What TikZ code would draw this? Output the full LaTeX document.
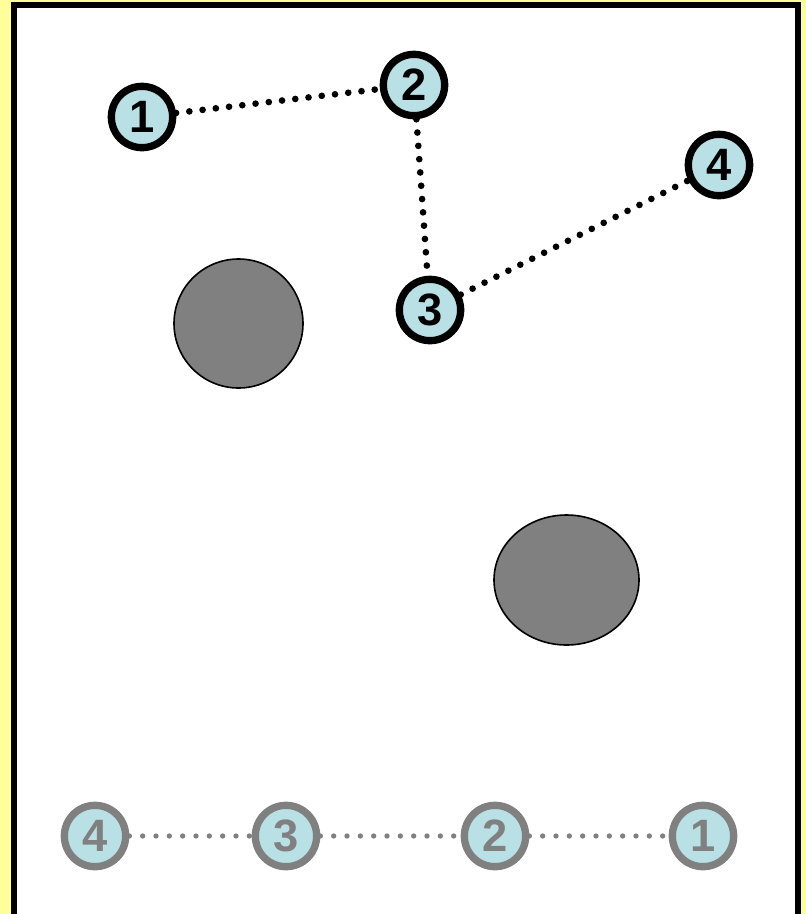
\documentclass[tikz,border=0pt]{standalone}
\usepackage{fontspec}
\setmainfont{Liberation Sans}
\usepackage{xcolor}
\usepackage{tikz}
\usetikzlibrary{shapes.geometric}
\definecolor{padyellow}{RGB}{255, 255, 153}
\definecolor{stopblue}{RGB}{185, 224, 228}
\definecolor{rockgray}{RGB}{128, 128, 128}

\begin{document}
\begin{tikzpicture}[x=0.75pt, y=-0.75pt, every node/.style={font=\fontsize{34}{34}\selectfont\bfseries}]
  % Styles
  \tikzstyle{stop} = [circle, draw=black, line width=5.5pt, fill=stopblue, minimum size=46pt, inner sep=0pt]
  \tikzstyle{oldstop} = [stop, draw=rockgray, text=rockgray]
  \tikzstyle{hop} = [line width=5pt, line cap=round, dash pattern=on 0pt off 10pt]
  \tikzstyle{oldhop} = [line width=4pt, line cap=round, dash pattern=on 0pt off 10pt, rockgray]
  \tikzstyle{rock} = [draw=black, line width=1.2pt, fill=rockgray]

  % Background and frame
  \useasboundingbox (0,0) rectangle (806,914);
  \clip (0,0) rectangle (806,914);
  \fill[padyellow] (0,0) rectangle (806,914);
  \draw[line width=4.5pt, fill=white] (14,5) rectangle (798,925);

  % Obstacles
  \node (rockA) [rock, circle, minimum size=96.75pt] at (238.5,323.5) {};
  \node (rockB) [rock, ellipse, minimum width=108.75pt, minimum height=97.5pt, inner sep=0pt] at (566.5,580) {};

  % Current route
  \node (s1) [stop] at (142,117) {1};
  \node (s2) [stop] at (414,85) {2};
  \node (s3) [stop] at (430,310) {3};
  \node (s4) [stop] at (719,165) {4};

  \draw [hop] (s1) -- (s2);
  \draw [hop] (s2) -- (s3);
  \draw [hop] (s3) -- (s4);

  % Previous route
  \node (o4) [oldstop] at (95,836) {4};
  \node (o3) [oldstop] at (286,836) {3};
  \node (o2) [oldstop] at (495,836) {2};
  \node (o1) [oldstop] at (703,836) {1};

  \draw [oldhop] (o4) -- (o3);
  \draw [oldhop] (o3) -- (o2);
  \draw [oldhop] (o2) -- (o1);
\end{tikzpicture}
\end{document}
